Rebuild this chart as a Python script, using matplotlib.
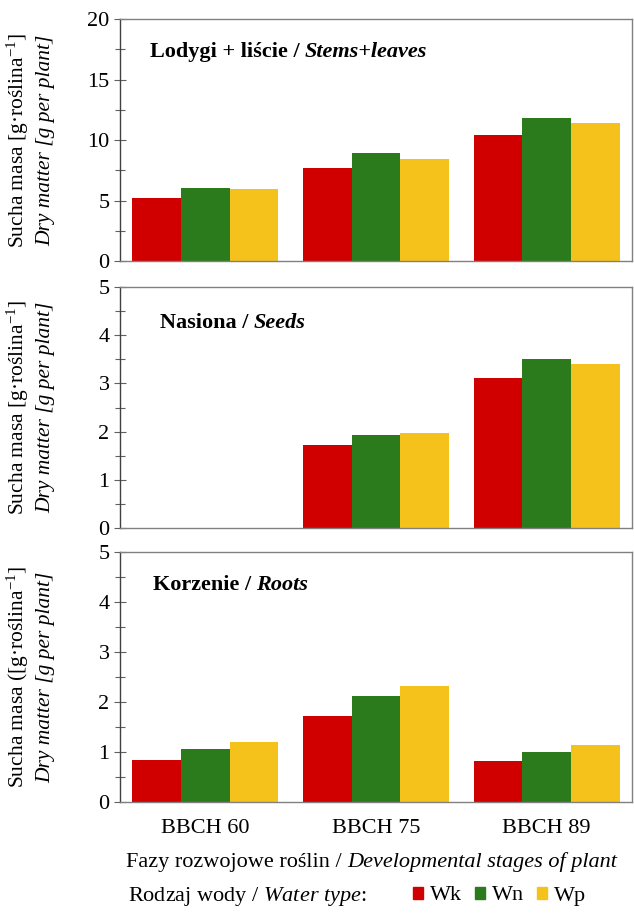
import numpy as np
import matplotlib
matplotlib.use('Agg')
import matplotlib.pyplot as plt
from matplotlib.ticker import MultipleLocator
from matplotlib.patches import Patch

plt.rcParams['font.family'] = 'Liberation Serif'
plt.rcParams['mathtext.fontset'] = 'custom'
plt.rcParams['mathtext.rm'] = 'Liberation Serif'
plt.rcParams['mathtext.it'] = 'Liberation Serif:italic'

# data
stages = ['BBCH 60', 'BBCH 75', 'BBCH 89']
water = ['Wk', 'Wn', 'Wp']
colors = ['#d00000', '#2b7a1b', '#f5c21b']

stems_wk = [5.2, 7.7, 10.4]
stems_wn = [6.0, 8.9, 11.8]
stems_wp = [5.95, 8.4, 11.4]

seeds_wk = [0.0, 1.72, 3.11]
seeds_wn = [0.0, 1.93, 3.50]
seeds_wp = [0.0, 1.97, 3.40]

roots_wk = [0.84, 1.72, 0.82]
roots_wn = [1.06, 2.12, 1.00]
roots_wp = [1.20, 2.32, 1.15]

panels = [
    ('Lodygi + liście / ', 'Stems+leaves', [stems_wk, stems_wn, stems_wp], 20, 5, 2.5,
     'Sucha masa [g·roślina$^{-1}$]'),
    ('Nasiona / ', 'Seeds', [seeds_wk, seeds_wn, seeds_wp], 5, 1, 0.5,
     'Sucha masa [g·roślina$^{-1}$]'),
    ('Korzenie / ', 'Roots', [roots_wk, roots_wn, roots_wp], 5, 1, 0.5,
     'Sucha masa ([g·roślina$^{-1}$]'),
]

W, H = 634, 916
fig = plt.figure(figsize=(W / 100, H / 100), dpi=100)

# axes boxes in pixels (top, bottom)
boxes = [(19, 261), (287, 528), (552, 802)]
title_pos = [(0.058, 0.864), (0.078, 0.85), (0.064, 0.868)]
left, right = 120, 632

x = np.arange(len(stages)) + 0.5
bw = 0.285

for i, (t1, t2, series, ymax, major, minor, ylab) in enumerate(panels):
    top, bot = boxes[i]
    ax = fig.add_axes([left / W, 1 - bot / H, (right - left) / W, (bot - top) / H])
    for j, vals in enumerate(series):
        ax.bar(x + (j - 1) * bw, vals, bw, color=colors[j], linewidth=0)
    ax.set_xlim(0, 3)
    ax.set_ylim(0, ymax)
    ax.yaxis.set_major_locator(MultipleLocator(major))
    ax.yaxis.set_minor_locator(MultipleLocator(minor))
    ax.tick_params(axis='y', which='both', direction='inout', length=9, width=0.8,
                   color='#606060', labelsize=16, pad=3)
    ax.tick_params(axis='y', which='minor', length=7)
    ax.set_xticks(x)
    if i == 2:
        ax.set_xticklabels(stages, fontsize=16)
        ax.tick_params(axis='x', length=0, pad=12)
    else:
        ax.set_xticklabels([])
        ax.tick_params(axis='x', length=0)
    for s in ax.spines.values():
        s.set_color('#808080')
        s.set_linewidth(1.0)
    ax.spines['left'].set_color('#404040')

    tx, ty = title_pos[i]
    a = ax.text(tx, ty, t1, transform=ax.transAxes, fontsize=16, fontweight='bold',
                va='center', ha='left')
    ax.annotate(t2, xy=(1, 0), xycoords=a, va='bottom', ha='left', fontsize=16,
                fontweight='bold', style='italic')

    yc = 1 - (top + bot) / 2 / H
    fig.text(18 / W, yc, ylab, rotation=90, ha='center', va='center', fontsize=15.5)
    fig.text(46 / W, yc, 'Dry matter [g per plant]', rotation=90, ha='center',
             va='center', fontsize=15.5, style='italic')

# x axis label
b1 = fig.text(126 / W, 1 - 862 / H, 'Fazy rozwojowe roślin / ', fontsize=16,
              ha='left', va='center')
fig.add_artist(plt.Annotation('Developmental stages of plant', xy=(1, 0), xycoords=b1,
                              va='bottom', ha='left', fontsize=16, style='italic'))

# legend line
fig.text(128 / W, 1 - 896 / H, 'Rodzaj wody / $\\mathit{Water\\ type}$:', fontsize=16,
         ha='left', va='center')
handles = [Patch(color=c, label=w) for c, w in zip(colors, water)]
fig.legend(handles=handles, loc='center left', bbox_to_anchor=(402 / W, 1 - 896 / H),
           ncol=3, frameon=False, fontsize=16, handlelength=0.45, handleheight=0.45,
           handletextpad=0.3, columnspacing=0.6, borderpad=0)

fig.savefig('out.png', dpi=100)
